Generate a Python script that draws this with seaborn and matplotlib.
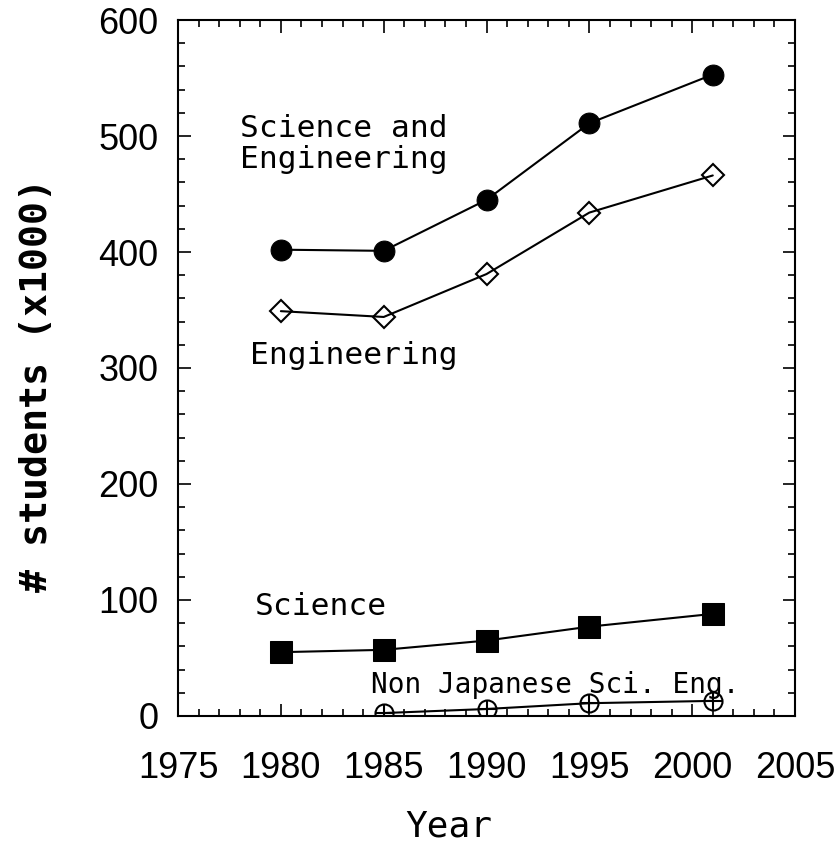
import matplotlib
matplotlib.use("Agg")
import matplotlib.pyplot as plt
import seaborn as sns
import numpy as np

years = [1980, 1985, 1990, 1995, 2001]
sci_eng = [402, 401, 445, 511, 553]
engineering = [349, 344, 381, 434, 466]
science = [55, 57, 65, 77, 88]
nonjp_years = [1985, 1990, 1995, 2001]
nonjp = [2.5, 6, 11, 13]

x_ticks = [1975, 1980, 1985, 1990, 1995, 2000, 2005]
y_ticks = [0, 100, 200, 300, 400, 500, 600]

sns.set_theme(style="white")
plt.rcParams['font.family'] = ['Liberation Sans', 'DejaVu Sans']
plt.rcParams['text.color'] = 'black'
plt.rcParams['axes.labelcolor'] = 'black'
plt.rcParams['xtick.color'] = 'black'
plt.rcParams['ytick.color'] = 'black'

fig = plt.figure(figsize=(8.39, 8.56), dpi=100)
ax = fig.add_axes([0.2122, 0.1636, 0.9476 - 0.2122, 0.9766 - 0.1636])

lw = 1.5
sns.lineplot(x=years, y=sci_eng, ax=ax, color='black', lw=lw, marker='o',
             markersize=15, markerfacecolor='black', markeredgecolor='black')
sns.lineplot(x=years, y=engineering, ax=ax, color='black', lw=lw, marker='D',
             markersize=11, markerfacecolor='none', markeredgecolor='black',
             markeredgewidth=1.5)
sns.lineplot(x=years, y=science, ax=ax, color='black', lw=lw, marker='s',
             markersize=16, markerfacecolor='black', markeredgecolor='black')
sns.lineplot(x=nonjp_years, y=nonjp, ax=ax, color='black', lw=lw, marker='o',
             markersize=13, markerfacecolor='none', markeredgecolor='black',
             markeredgewidth=1.5)
sns.scatterplot(x=nonjp_years, y=nonjp, ax=ax, color='black', marker='+',
                s=170, linewidth=1.5, zorder=5)

ax.set_xlim(1975, 2005)
ax.set_ylim(0, 600)
ax.set_xticks(x_ticks)
ax.set_yticks(y_ticks)
ax.set_xticks(np.arange(1975, 2006, 1), minor=True)
ax.set_yticks(np.arange(0, 601, 20), minor=True)
ax.tick_params(which='both', direction='in', top=True, right=True,
               bottom=True, left=True, color='black', labelcolor='black')
ax.tick_params(which='major', length=9, width=1.2, labelsize=26)
ax.tick_params(axis='x', which='major', pad=25)
ax.tick_params(axis='y', which='major', pad=14)
ax.tick_params(which='minor', length=5, width=1.2)
for s in ax.spines.values():
    s.set_color('black')
    s.set_linewidth(1.5)

mono = ['DejaVu Sans Mono']
ax.set_ylabel('# students (x1000)', fontsize=27.5, fontweight='bold', family=mono)
ax.yaxis.set_label_coords(-0.199, 0.476)
ax.set_xlabel('Year', fontsize=26, family=mono)
ax.xaxis.set_label_coords(0.439, -0.134)

ax.text(1978.0, 519, 'Science and\nEngineering', fontsize=22.5, family=mono,
        va='top', ha='left', linespacing=1.1)
ax.text(1978.5, 311, 'Engineering', fontsize=22.5, family=mono, va='center', ha='left')
ax.text(1978.75, 94, 'Science', fontsize=22.5, family=mono, va='center', ha='left')
ax.text(1984.4, 27, 'Non Japanese Sci. Eng.', fontsize=20, family=mono,
        va='center', ha='left')

fig.savefig('out.png', dpi=100)
